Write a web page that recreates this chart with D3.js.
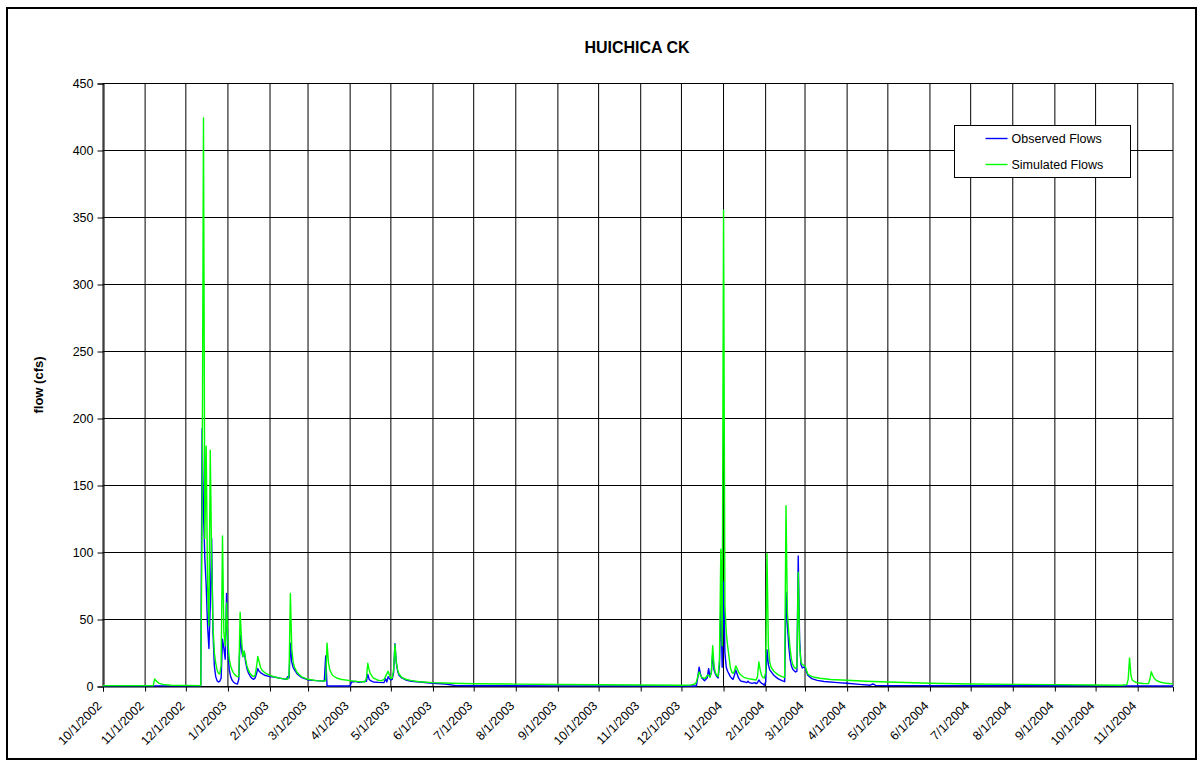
<!DOCTYPE html>
<html>
<head>
<meta charset="utf-8">
<script src="https://cdn.jsdelivr.net/npm/d3@7"></script>
<style>
  html, body { margin: 0; padding: 0; background: #fff; }
  svg { display: block; font-family: "Liberation Sans", Arial, sans-serif; }
</style>
</head>
<body>
<svg id="chart" width="1203" height="765"></svg>
<script>
// Daily flow readings (cfs), stored at the dates where the hydrograph changes shape
const observedFlows = [
  ["2002-10-01", 0.1], ["2002-12-12", 0.1], ["2002-12-13", 192], ["2002-12-14", 130],
  ["2002-12-15", 95], ["2002-12-16", 75], ["2002-12-17", 45], ["2002-12-18", 28],
  ["2002-12-19", 60], ["2002-12-20", 110], ["2002-12-21", 40], ["2002-12-22", 15],
  ["2002-12-23", 7], ["2002-12-24", 4], ["2002-12-25", 3], ["2002-12-26", 3.5],
  ["2002-12-27", 6], ["2002-12-28", 35], ["2002-12-29", 28], ["2002-12-30", 20],
  ["2002-12-31", 69], ["2003-01-01", 25], ["2003-01-02", 12], ["2003-01-03", 7],
  ["2003-01-04", 4.5], ["2003-01-05", 3], ["2003-01-06", 2.2], ["2003-01-07", 1.8],
  ["2003-01-08", 1.5], ["2003-01-09", 5], ["2003-01-10", 38], ["2003-01-11", 27],
  ["2003-01-12", 22], ["2003-01-13", 26], ["2003-01-14", 18], ["2003-01-15", 13],
  ["2003-01-16", 10], ["2003-01-17", 8], ["2003-01-18", 6.5], ["2003-01-19", 5.5],
  ["2003-01-20", 5], ["2003-01-21", 6], ["2003-01-22", 9], ["2003-01-23", 13],
  ["2003-01-24", 11], ["2003-01-25", 10], ["2003-01-28", 8], ["2003-02-01", 7],
  ["2003-02-05", 6.5], ["2003-02-10", 5.5], ["2003-02-13", 5], ["2003-02-14", 7],
  ["2003-02-15", 6], ["2003-02-16", 32], ["2003-02-17", 18], ["2003-02-18", 14],
  ["2003-02-19", 12], ["2003-02-21", 9], ["2003-02-24", 6.5], ["2003-03-01", 4.5],
  ["2003-03-07", 4], ["2003-03-13", 3.7], ["2003-03-14", 22.4], ["2003-03-15", 0],
  ["2003-04-01", 0], ["2003-04-02", 3], ["2003-04-05", 3.4], ["2003-04-07", 2.8],
  ["2003-04-13", 3.5], ["2003-04-14", 8.7], ["2003-04-15", 5], ["2003-04-16", 4],
  ["2003-04-18", 3], ["2003-04-22", 2.7], ["2003-04-26", 2.5], ["2003-04-27", 5.5],
  ["2003-04-28", 3], ["2003-04-29", 7], ["2003-04-30", 5.5], ["2003-05-01", 4.5],
  ["2003-05-02", 5], ["2003-05-03", 10], ["2003-05-04", 31.5], ["2003-05-05", 17],
  ["2003-05-06", 11], ["2003-05-07", 8], ["2003-05-09", 6], ["2003-05-12", 4.5],
  ["2003-05-16", 3.5], ["2003-05-22", 3], ["2003-06-01", 2], ["2003-06-10", 1.5],
  ["2003-06-18", 0.3], ["2003-07-01", 0.2], ["2003-09-01", 0.1], ["2003-12-12", 0],
  ["2003-12-13", 6], ["2003-12-14", 14], ["2003-12-15", 9], ["2003-12-16", 6],
  ["2003-12-17", 5], ["2003-12-18", 4], ["2003-12-19", 5], ["2003-12-20", 6],
  ["2003-12-21", 13], ["2003-12-22", 7], ["2003-12-23", 10], ["2003-12-24", 24],
  ["2003-12-25", 12], ["2003-12-26", 9], ["2003-12-27", 7], ["2003-12-28", 6],
  ["2003-12-29", 15], ["2003-12-30", 62], ["2003-12-31", 14], ["2004-01-01", 78],
  ["2004-01-02", 25], ["2004-01-03", 14], ["2004-01-04", 11], ["2004-01-05", 9],
  ["2004-01-06", 7], ["2004-01-07", 5.7], ["2004-01-08", 5], ["2004-01-09", 8],
  ["2004-01-10", 12], ["2004-01-11", 9], ["2004-01-12", 6], ["2004-01-13", 4.5],
  ["2004-01-14", 3.5], ["2004-01-16", 3.2], ["2004-01-18", 2.5], ["2004-01-19", 3.5],
  ["2004-01-20", 2.5], ["2004-01-22", 2], ["2004-01-24", 2.5], ["2004-01-25", 1.8],
  ["2004-01-26", 2.5], ["2004-01-27", 4.5], ["2004-01-28", 3], ["2004-01-29", 2],
  ["2004-01-30", 1.5], ["2004-01-31", 0.5], ["2004-02-01", 3], ["2004-02-02", 27],
  ["2004-02-03", 16], ["2004-02-04", 12], ["2004-02-05", 10.7], ["2004-02-07", 8],
  ["2004-02-10", 5.5], ["2004-02-13", 4], ["2004-02-15", 3.2], ["2004-02-16", 70],
  ["2004-02-17", 46], ["2004-02-18", 30], ["2004-02-19", 20], ["2004-02-20", 15],
  ["2004-02-21", 12.5], ["2004-02-22", 11.4], ["2004-02-23", 10.5], ["2004-02-24", 11],
  ["2004-02-25", 97], ["2004-02-26", 35], ["2004-02-27", 16], ["2004-02-28", 13.5],
  ["2004-02-29", 14], ["2004-03-01", 14], ["2004-03-03", 8], ["2004-03-06", 5.5],
  ["2004-03-10", 4.2], ["2004-03-15", 3.4], ["2004-03-25", 2.5], ["2004-04-01", 2],
  ["2004-04-10", 1.2], ["2004-04-18", 0.6], ["2004-04-20", 1.5], ["2004-04-22", 0.5],
  ["2004-05-01", 0.3], ["2004-07-01", 0.2], ["2004-09-25", 0.2], ["2004-10-01", 0.1],
  ["2004-11-27", 0]
];

const simulatedFlows = [
  ["2002-10-01", 0.3], ["2002-11-07", 0.3], ["2002-11-08", 5.2], ["2002-11-09", 4],
  ["2002-11-11", 2.2], ["2002-11-14", 1.2], ["2002-11-20", 0.6], ["2002-12-12", 0.3],
  ["2002-12-13", 130], ["2002-12-14", 424], ["2002-12-15", 110], ["2002-12-16", 179],
  ["2002-12-17", 75], ["2002-12-18", 45], ["2002-12-19", 176], ["2002-12-20", 95],
  ["2002-12-21", 45], ["2002-12-22", 25], ["2002-12-23", 17], ["2002-12-24", 12],
  ["2002-12-25", 9.5], ["2002-12-26", 9], ["2002-12-27", 15], ["2002-12-28", 112],
  ["2002-12-29", 40], ["2002-12-30", 30], ["2002-12-31", 62], ["2003-01-01", 32],
  ["2003-01-02", 20], ["2003-01-03", 15], ["2003-01-04", 12], ["2003-01-05", 10],
  ["2003-01-06", 8.5], ["2003-01-07", 7.5], ["2003-01-08", 7], ["2003-01-09", 7],
  ["2003-01-10", 55], ["2003-01-11", 35], ["2003-01-12", 22], ["2003-01-13", 26],
  ["2003-01-14", 20], ["2003-01-15", 15], ["2003-01-16", 12], ["2003-01-17", 10],
  ["2003-01-18", 8.5], ["2003-01-19", 7.5], ["2003-01-20", 7], ["2003-01-21", 8],
  ["2003-01-22", 14], ["2003-01-23", 22], ["2003-01-24", 18], ["2003-01-25", 14],
  ["2003-01-26", 12], ["2003-01-28", 10], ["2003-02-01", 8], ["2003-02-05", 6.5],
  ["2003-02-10", 5.5], ["2003-02-14", 5], ["2003-02-15", 8], ["2003-02-16", 69],
  ["2003-02-17", 28], ["2003-02-18", 18], ["2003-02-19", 14], ["2003-02-21", 10],
  ["2003-02-24", 7], ["2003-03-01", 5], ["2003-03-07", 4], ["2003-03-13", 3.7],
  ["2003-03-14", 4], ["2003-03-15", 32], ["2003-03-16", 18], ["2003-03-17", 12],
  ["2003-03-19", 8], ["2003-03-22", 6], ["2003-03-26", 4.8], ["2003-04-01", 4],
  ["2003-04-06", 3.4], ["2003-04-12", 3.2], ["2003-04-13", 6], ["2003-04-14", 17],
  ["2003-04-15", 12], ["2003-04-16", 9], ["2003-04-18", 6], ["2003-04-21", 4.5],
  ["2003-04-24", 3.8], ["2003-04-26", 5], ["2003-04-27", 7], ["2003-04-28", 9],
  ["2003-04-29", 11], ["2003-04-30", 8], ["2003-05-01", 5.5], ["2003-05-02", 6],
  ["2003-05-03", 12], ["2003-05-04", 31], ["2003-05-05", 18], ["2003-05-06", 12],
  ["2003-05-07", 9], ["2003-05-09", 6.5], ["2003-05-12", 5], ["2003-05-16", 4],
  ["2003-05-22", 3.2], ["2003-06-01", 2.5], ["2003-06-15", 2.1], ["2003-07-01", 1.7],
  ["2003-08-01", 1.4], ["2003-09-01", 1.1], ["2003-10-01", 0.9], ["2003-11-01", 0.7],
  ["2003-12-01", 0.6], ["2003-12-08", 0.8], ["2003-12-11", 1.5], ["2003-12-12", 3],
  ["2003-12-13", 7], ["2003-12-14", 10.5], ["2003-12-15", 8], ["2003-12-16", 6.5],
  ["2003-12-17", 6], ["2003-12-18", 5.5], ["2003-12-19", 6.5], ["2003-12-20", 8],
  ["2003-12-21", 8], ["2003-12-22", 6.5], ["2003-12-23", 10], ["2003-12-24", 30],
  ["2003-12-25", 15], ["2003-12-26", 10], ["2003-12-27", 8], ["2003-12-28", 7],
  ["2003-12-29", 20], ["2003-12-30", 102], ["2003-12-31", 30], ["2004-01-01", 355],
  ["2004-01-02", 60], ["2004-01-03", 40], ["2004-01-04", 30], ["2004-01-05", 22],
  ["2004-01-06", 14], ["2004-01-07", 10.5], ["2004-01-08", 9.5], ["2004-01-09", 11],
  ["2004-01-10", 15], ["2004-01-11", 13], ["2004-01-12", 10.5], ["2004-01-13", 9],
  ["2004-01-14", 8], ["2004-01-16", 6.5], ["2004-01-19", 5.5], ["2004-01-22", 5],
  ["2004-01-25", 4.5], ["2004-01-26", 7], ["2004-01-27", 18], ["2004-01-28", 12],
  ["2004-01-29", 8], ["2004-01-30", 6.5], ["2004-01-31", 6], ["2004-02-01", 10],
  ["2004-02-02", 99], ["2004-02-03", 30], ["2004-02-04", 18], ["2004-02-05", 14],
  ["2004-02-07", 11], ["2004-02-10", 8.5], ["2004-02-13", 7], ["2004-02-15", 6.5],
  ["2004-02-16", 134.6], ["2004-02-17", 55], ["2004-02-18", 40], ["2004-02-19", 28],
  ["2004-02-20", 20], ["2004-02-21", 16], ["2004-02-22", 14], ["2004-02-23", 13],
  ["2004-02-24", 14], ["2004-02-25", 85], ["2004-02-26", 30], ["2004-02-27", 18],
  ["2004-02-28", 16], ["2004-02-29", 15.5], ["2004-03-01", 15], ["2004-03-03", 9],
  ["2004-03-05", 7.5], ["2004-03-08", 6.5], ["2004-03-12", 5.8], ["2004-03-20", 4.8],
  ["2004-04-01", 4.3], ["2004-04-15", 3.6], ["2004-05-01", 3], ["2004-06-01", 2],
  ["2004-07-01", 1.5], ["2004-08-01", 1.2], ["2004-09-01", 1], ["2004-10-01", 0.8],
  ["2004-10-20", 0.6], ["2004-10-24", 1], ["2004-10-25", 5], ["2004-10-26", 21],
  ["2004-10-27", 8], ["2004-10-28", 4.5], ["2004-10-30", 3], ["2004-11-02", 2.2],
  ["2004-11-05", 1.9], ["2004-11-09", 1.8], ["2004-11-10", 5], ["2004-11-11", 10.7],
  ["2004-11-12", 8], ["2004-11-13", 6], ["2004-11-15", 4], ["2004-11-18", 2.8],
  ["2004-11-22", 2], ["2004-11-27", 1.6]
];

const seriesNames = ["Observed Flows", "Simulated Flows"];
const seriesColors = ["#0000ff", "#00ff00"];
const yTicks = [0, 50, 100, 150, 200, 250, 300, 350, 400, 450];
const dateStart = "2002-10-01";
const dateEnd = "2004-11-27";
const chartTitle = "HUICHICA CK";
const yAxisTitle = "flow (cfs)";

const parse = d3.utcParse("%Y-%m-%d");
const fmt = d3.utcFormat("%-m/%-d/%Y");

const svg = d3.select("#chart");
const plotLeft = 103, plotRight = 1173, plotTop = 83, plotBottom = 686;

const x = d3.scaleUtc().domain([parse(dateStart), parse(dateEnd)]).range([plotLeft, plotRight]);
const y = d3.scaleLinear().domain([0, 450]).range([plotBottom, plotTop]);

// outer frame
svg.append("rect")
  .attr("x", 7).attr("y", 8).attr("width", 1189).attr("height", 751)
  .attr("fill", "#fff").attr("stroke", "#000").attr("stroke-width", 2);

// title
svg.append("text")
  .attr("x", 637).attr("y", 53)
  .attr("text-anchor", "middle")
  .attr("font-size", 16).attr("font-weight", "bold")
  .text(chartTitle);

// y axis title
svg.append("text")
  .attr("transform", `translate(43,385) rotate(-90)`)
  .attr("text-anchor", "middle")
  .attr("font-size", 13).attr("font-weight", "bold")
  .text(yAxisTitle);

const monthTicks = d3.utcMonth.range(parse(dateStart), d3.utcDay.offset(parse(dateEnd), 1));

// grid
const grid = svg.append("g").attr("stroke", "#000").attr("stroke-width", 1);
grid.selectAll("line.v").data(monthTicks).join("line")
  .attr("x1", d => x(d)).attr("x2", d => x(d))
  .attr("y1", plotTop).attr("y2", plotBottom);
grid.append("line").attr("x1", plotRight).attr("x2", plotRight).attr("y1", plotTop).attr("y2", plotBottom);
grid.selectAll("line.h").data(yTicks).join("line")
  .attr("x1", plotLeft).attr("x2", plotRight)
  .attr("y1", d => Math.round(y(d)) + 0.5).attr("y2", d => Math.round(y(d)) + 0.5);

// y axis
const yAxis = d3.axisLeft(y).tickValues(yTicks).tickSize(6).tickPadding(4).tickFormat(d3.format("d"));
const gy = svg.append("g").attr("transform", `translate(${plotLeft + 0.5},0.5)`).call(yAxis);
gy.select(".domain").attr("stroke", "#000");
gy.selectAll("text").attr("font-size", 12.5).attr("fill", "#000").attr("font-family", "Liberation Sans, Arial, sans-serif");

// x axis
const xAxis = d3.axisBottom(x).tickValues(monthTicks).tickSize(5).tickFormat(fmt);
const gx = svg.append("g").attr("transform", `translate(0,${plotBottom + 0.5})`).call(xAxis);
gx.select(".domain").attr("stroke", "#000");
gx.selectAll("text")
  .attr("font-size", 12.5).attr("fill", "#000").attr("font-family", "Liberation Sans, Arial, sans-serif")
  .attr("text-anchor", "end")
  .attr("dy", null)
  .attr("transform", "translate(-1,20) rotate(-45)")
  .attr("y", 0).attr("x", 0);

// series lines (simulated drawn last, on top)
const line = d3.line().x(d => x(parse(d[0]))).y(d => y(d[1]));
[observedFlows, simulatedFlows].forEach((s, i) => {
  svg.append("path")
    .datum(s)
    .attr("fill", "none")
    .attr("stroke", seriesColors[i])
    .attr("stroke-width", 1.4)
    .attr("stroke-linejoin", "round")
    .attr("d", line);
});

// legend
const lg = svg.append("g").attr("transform", "translate(954.5,125.5)");
lg.append("rect").attr("width", 176).attr("height", 52).attr("fill", "#fff").attr("stroke", "#000");
seriesNames.forEach((n, i) => {
  const yy = 13 + i * 26;
  lg.append("line").attr("x1", 31).attr("x2", 53).attr("y1", yy).attr("y2", yy)
    .attr("stroke", seriesColors[i]).attr("stroke-width", 1.4);
  lg.append("text").attr("x", 57).attr("y", yy + 4.5)
    .attr("font-size", 12.5).text(n);
});
</script>
</body>
</html>
